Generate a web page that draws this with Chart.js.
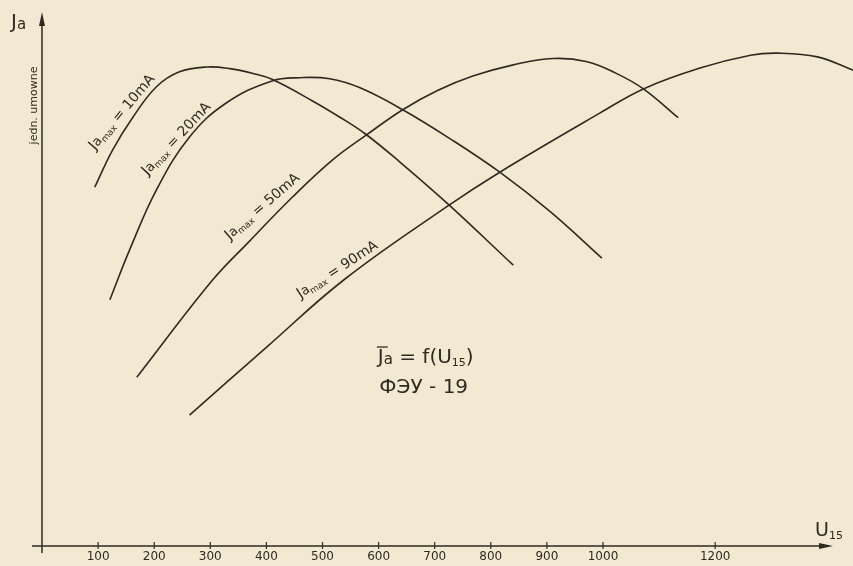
<!DOCTYPE html>
<html>
<head>
<meta charset="utf-8">
<script src="https://cdn.jsdelivr.net/npm/chart.js@4.4.0/dist/chart.umd.min.js"></script>
<style>
  html, body { margin: 0; padding: 0; background: #f3e9d2; }
  #wrap { width: 853px; height: 566px; position: relative; }
</style>
</head>
<body>
<div id="wrap"><canvas id="chart"></canvas></div>
<script>
// U15 in volts, Ja in arbitrary units (jedn. umowne)
const uTicks = [100, 200, 300, 400, 500, 600, 700, 800, 900, 1000, 1200];

const u10  = [94, 126, 162, 204, 245, 294, 335, 376, 410, 483, 531, 576, 638, 722, 840];
const ja10 = [67.2, 74.2, 80.3, 86.0, 88.8, 89.7, 89.4, 88.5, 87.4, 83.3, 80.3, 77.2, 71.9, 64.2, 52.6];

const u20  = [121, 156, 204, 263, 329, 410, 460, 513, 567, 643, 727, 816, 906, 998];
const ja20 = [46.1, 55.4, 66.7, 76.6, 83.0, 87.1, 87.7, 87.5, 85.8, 81.7, 76.3, 70.0, 62.6, 53.9];

const u50  = [169, 304, 370, 447, 518, 576, 643, 705, 768, 840, 911, 972, 1022, 1072, 1134];
const ja50 = [31.6, 49.8, 57.1, 65.4, 72.3, 76.8, 81.7, 85.3, 88.0, 90.1, 91.3, 90.7, 88.6, 85.6, 80.2];

const u90  = [263, 401, 540, 721, 816, 995, 1072, 1173, 1263, 1311, 1382, 1446];
const ja90 = [24.5, 37.3, 50.0, 63.5, 70.0, 81.1, 85.6, 89.5, 91.9, 92.3, 91.6, 89.1];

// curve captions: [U, Ja, angle deg, value]
const curveLabels = [
  [143, 81.2, -50, '10mA'],
  [240, 76.2, -47, '20mA'],
  [393, 63.5, -41, '50mA'],
  [527, 51.7, -33, '90mA']
];

const INK = '#2f2a21';
const FONT = "'DejaVu Sans', sans-serif";

function pts(xs, ys) {
  return xs.map((x, i) => ({ x: x, y: ys[i] }));
}

function curve(xs, ys) {
  return {
    data: pts(xs, ys),
    showLine: true,
    borderColor: INK,
    borderWidth: 1.6,
    pointRadius: 0,
    fill: false,
    tension: 0.4,
    clip: false
  };
}

// draw a run of text pieces (size, vertical shift) starting left/center
function drawParts(ctx, parts, x, y, align) {
  let w = 0;
  parts.forEach(p => {
    ctx.font = p.s + 'px ' + FONT;
    p.w = ctx.measureText(p.t).width;
    w += p.w;
  });
  let cx = align === 'center' ? x - w / 2 : x;
  parts.forEach(p => {
    ctx.font = p.s + 'px ' + FONT;
    ctx.fillText(p.t, cx, y + (p.dy || 0));
    p.x = cx;
    cx += p.w;
  });
}

const drawing = {
  id: 'drawing',
  beforeDatasetsDraw(chart) {
    const ctx = chart.ctx;
    const xs = chart.scales.x, ys = chart.scales.y;
    const x0 = xs.getPixelForValue(0), y0 = ys.getPixelForValue(0);
    const xEnd = xs.getPixelForValue(xs.max), yEnd = ys.getPixelForValue(ys.max);
    ctx.save();
    ctx.strokeStyle = INK;
    ctx.fillStyle = INK;
    ctx.lineWidth = 1.5;
    // axes
    ctx.beginPath();
    ctx.moveTo(x0 - 10, y0);
    ctx.lineTo(xEnd - 6, y0);
    ctx.moveTo(x0, y0 + 7);
    ctx.lineTo(x0, yEnd + 6);
    ctx.stroke();
    // arrow heads
    ctx.beginPath();
    ctx.moveTo(xEnd, y0);
    ctx.lineTo(xEnd - 14, y0 - 3);
    ctx.lineTo(xEnd - 14, y0 + 3);
    ctx.closePath();
    ctx.fill();
    ctx.beginPath();
    ctx.moveTo(x0, yEnd);
    ctx.lineTo(x0 - 3, yEnd + 14);
    ctx.lineTo(x0 + 3, yEnd + 14);
    ctx.closePath();
    ctx.fill();
    // ticks + labels
    ctx.lineWidth = 1.2;
    ctx.textAlign = 'left';
    ctx.textBaseline = 'middle';
    uTicks.forEach(u => {
      const px = xs.getPixelForValue(u);
      ctx.beginPath();
      ctx.moveTo(px, y0 - 4);
      ctx.lineTo(px, y0 + 3);
      ctx.stroke();
      drawParts(ctx, [{ t: String(u), s: 12 }], px, y0 + 11, 'center');
    });
    ctx.restore();
  },
  afterDatasetsDraw(chart) {
    const ctx = chart.ctx;
    const xs = chart.scales.x, ys = chart.scales.y;
    ctx.save();
    ctx.fillStyle = INK;
    ctx.strokeStyle = INK;
    ctx.textBaseline = 'middle';
    ctx.textAlign = 'left';

    // axis titles
    const x0 = xs.getPixelForValue(0), yTop = ys.getPixelForValue(ys.max);
    drawParts(ctx, [{ t: 'J', s: 20 }, { t: 'a', s: 15, dy: 2 }], x0 - 31, yTop + 11, 'left');
    ctx.save();
    ctx.translate(x0 - 8, ys.getPixelForValue(82.5));
    ctx.rotate(-Math.PI / 2);
    drawParts(ctx, [{ t: 'jedn. umowne', s: 11 }], 0, 0, 'center');
    ctx.restore();

    const xr = xs.getPixelForValue(xs.max), yb = ys.getPixelForValue(0);
    drawParts(ctx, [{ t: 'U', s: 19 }, { t: '15', s: 11, dy: 5 }], xr - 18, yb - 15, 'left');

    // curve captions
    curveLabels.forEach(l => {
      ctx.save();
      ctx.translate(xs.getPixelForValue(l[0]), ys.getPixelForValue(l[1]));
      ctx.rotate(l[2] * Math.PI / 180);
      drawParts(ctx, [
        { t: 'J', s: 15 }, { t: 'a', s: 13 },
        { t: 'max', s: 9, dy: 4 },
        { t: ' = ' + l[3], s: 14 }
      ], 0, 0, 'center');
      ctx.restore();
    });

    // formula block
    const fx = xs.getPixelForValue(684);
    const fy = ys.getPixelForValue(35.2);
    const fparts = [
      { t: 'J', s: 20 }, { t: 'a', s: 15, dy: 2 },
      { t: ' = f(U', s: 20 }, { t: '15', s: 11, dy: 5 }, { t: ')', s: 20 }
    ];
    drawParts(ctx, fparts, fx, fy, 'center');
    ctx.lineWidth = 1.3;
    ctx.beginPath();
    ctx.moveTo(fparts[0].x - 1, fy - 11);
    ctx.lineTo(fparts[0].x + 10, fy - 11);
    ctx.stroke();
    drawParts(ctx, [{ t: 'ФЭУ - 19', s: 20 }], fx - 2, ys.getPixelForValue(29.6), 'center');
    ctx.restore();
  }
};

new Chart(document.getElementById('chart'), {
  type: 'scatter',
  data: {
    datasets: [curve(u10, ja10), curve(u20, ja20), curve(u50, ja50), curve(u90, ja90)]
  },
  options: {
    responsive: true,
    maintainAspectRatio: false,
    animation: false,
    layout: { padding: { left: 42, top: 12, right: 20, bottom: 20 } },
    plugins: { legend: { display: false }, tooltip: { enabled: false } },
    scales: {
      x: { type: 'linear', min: 0, max: 1410, display: false },
      y: { type: 'linear', min: 0, max: 100, display: false }
    }
  },
  plugins: [drawing]
});
</script>
</body>
</html>
